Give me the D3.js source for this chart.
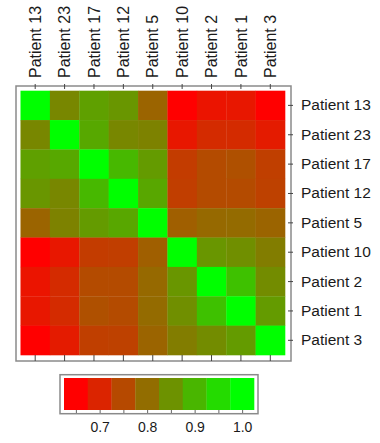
<!DOCTYPE html>
<html>
<head>
<meta charset="utf-8">
<script src="https://cdn.jsdelivr.net/npm/d3@7"></script>
<style>
  body { margin: 0; background: #fff; }
  svg { display: block; font-family: Lato, "Open Sans", sans-serif; }
</style>
</head>
<body>
<svg id="chart" width="380" height="443"></svg>
<script>
const patients = ["Patient 13", "Patient 23", "Patient 17", "Patient 12", "Patient 5",
                  "Patient 10", "Patient 2", "Patient 1", "Patient 3"];

// similarity matrix, rows/cols in the order above
const rowP13 = [1.00, 0.835, 0.870, 0.856, 0.787, 0.650, 0.677, 0.682, 0.650];
const rowP23 = [0.835, 1.00, 0.880, 0.835, 0.828, 0.682, 0.709, 0.709, 0.687];
const rowP17 = [0.870, 0.880, 1.00, 0.902, 0.863, 0.732, 0.753, 0.760, 0.736];
const rowP12 = [0.856, 0.835, 0.902, 1.00, 0.879, 0.735, 0.753, 0.753, 0.739];
const rowP5  = [0.787, 0.828, 0.863, 0.879, 1.00, 0.780, 0.794, 0.797, 0.787];
const rowP10 = [0.650, 0.682, 0.732, 0.735, 0.780, 1.00, 0.856, 0.846, 0.822];
const rowP2  = [0.677, 0.709, 0.753, 0.753, 0.794, 0.856, 1.00, 0.915, 0.842];
const rowP1  = [0.682, 0.709, 0.760, 0.753, 0.797, 0.846, 0.915, 1.00, 0.863];
const rowP3  = [0.650, 0.687, 0.736, 0.739, 0.787, 0.822, 0.842, 0.863, 1.00];
const matrix = [rowP13, rowP23, rowP17, rowP12, rowP5, rowP10, rowP2, rowP1, rowP3];

// colorbar blocks (centres) and labelled ticks
const legendSteps = [0.65, 0.70, 0.75, 0.80, 0.85, 0.90, 0.95, 1.00];
const legendLabels = [0.7, 0.8, 0.9, 1.0];

const svg = d3.select("#chart");

const x = d3.scaleBand().domain(patients).range([20.5, 285]);
const y = d3.scaleBand().domain(patients).range([90.7, 355]);

const color = d3.scaleLinear()
    .domain([0.65, 1.0])
    .range(["#ff0000", "#00ff00"])
    .interpolate(d3.interpolateRgb)
    .clamp(true);

const cells = [];
matrix.forEach((row, i) => {
  row.forEach((v, j) => cells.push({ r: patients[i], c: patients[j], v: v }));
});

// frame
svg.append("rect")
  .attr("x", 16).attr("y", 86)
  .attr("width", 275).attr("height", 275)
  .attr("fill", "none")
  .attr("stroke", "#8a8a8a")
  .attr("stroke-width", 1.5);

svg.append("g")
  .selectAll("rect")
  .data(cells)
  .enter()
  .append("rect")
  .attr("x", d => x(d.c))
  .attr("y", d => y(d.r))
  .attr("width", x.bandwidth() + 0.3)
  .attr("height", y.bandwidth() + 0.3)
  .attr("fill", d => color(d.v));

// top axis with rotated labels
const topAxis = svg.append("g")
  .attr("transform", "translate(0,89)")
  .call(d3.axisTop(x).tickSize(5).tickSizeOuter(0));
topAxis.select(".domain").remove();
topAxis.selectAll("line").attr("stroke", "#444");
topAxis.selectAll("text")
  .attr("transform", "rotate(-90)")
  .attr("x", 11)
  .attr("y", 0)
  .attr("dy", "0.35em")
  .attr("text-anchor", "start")
  .style("font-size", "16px")
  .style("fill", "#1a1a1a");

// right axis
const rightAxis = svg.append("g")
  .attr("transform", "translate(288,0)")
  .call(d3.axisRight(y).tickSize(5).tickPadding(8).tickSizeOuter(0));
rightAxis.select(".domain").remove();
rightAxis.selectAll("line").attr("stroke", "#444");
rightAxis.selectAll("text")
  .style("font-size", "15.5px")
  .style("fill", "#1a1a1a");

// bottom ticks only
const bottomAxis = svg.append("g")
  .attr("transform", "translate(0,355)")
  .call(d3.axisBottom(x).tickSize(6).tickSizeOuter(0).tickFormat(""));
bottomAxis.select(".domain").remove();
bottomAxis.selectAll("line").attr("stroke", "#444");

// colorbar
const cb = d3.scaleLinear().domain([0.625, 1.025]).range([64, 254]);

svg.append("rect")
  .attr("x", 60).attr("y", 374.7)
  .attr("width", 198).attr("height", 39)
  .attr("fill", "none")
  .attr("stroke", "#8a8a8a")
  .attr("stroke-width", 1.5);

svg.append("g")
  .selectAll("rect")
  .data(legendSteps)
  .enter()
  .append("rect")
  .attr("x", d => cb(d - 0.025))
  .attr("y", 378)
  .attr("width", d => cb(d + 0.025) - cb(d - 0.025) + 0.3)
  .attr("height", 32)
  .attr("fill", d => color(d));

const cbAxis = svg.append("g")
  .attr("transform", "translate(0,410)")
  .call(d3.axisBottom(cb)
    .tickValues(legendSteps)
    .tickSize(3)
    .tickPadding(9)
    .tickFormat(d => legendLabels.some(l => Math.abs(l - d) < 1e-6) ? d3.format(".1f")(d) : ""));
cbAxis.select(".domain").remove();
cbAxis.selectAll("line").attr("stroke", "#666");
cbAxis.selectAll("text")
  .style("font-size", "14px")
  .style("fill", "#1a1a1a");
</script>
</body>
</html>
